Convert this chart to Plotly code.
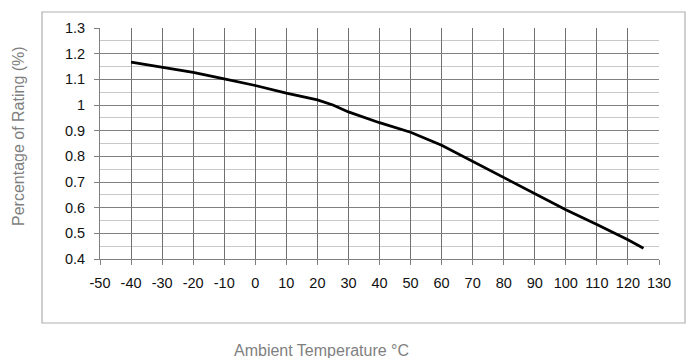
import plotly.graph_objects as go

temperature = [-40, -30, -20, -10, 0, 10, 20, 25, 30, 40, 50, 60, 70, 80, 90, 100, 110, 120, 125]
rating = [1.167, 1.148, 1.127, 1.102, 1.076, 1.046, 1.02, 1.0, 0.973, 0.931, 0.894, 0.843,
          0.78, 0.717, 0.656, 0.592, 0.534, 0.475, 0.442]

x_ticks = list(range(-50, 131, 10))
y_ticks = [0.4, 0.5, 0.6, 0.7, 0.8, 0.9, 1.0, 1.1, 1.2, 1.3]
y_labels = ["0.4", "0.5", "0.6", "0.7", "0.8", "0.9", "1", "1.1", "1.2", "1.3"]

x_title = "Ambient Temperature °C"
y_title = "Percentage of Rating (%)"

W, H = 695, 358
L, R, T, B = 100, 659, 28, 259

fig = go.Figure()
fig.add_trace(go.Scatter(x=temperature, y=rating, mode="lines",
                         line=dict(color="#000000", width=2.8), showlegend=False,
                         hoverinfo="skip"))

font = "Arial, 'Liberation Sans', sans-serif"

fig.update_layout(
    width=W, height=H,
    margin=dict(l=L, r=W - R, t=T, b=H - B, pad=0),
    paper_bgcolor="white", plot_bgcolor="white",
    font=dict(family=font, size=14, color="#111111"),
    xaxis=dict(range=[-50, 130], tickvals=x_ticks, ticktext=[str(v) for v in x_ticks],
               showgrid=True, gridcolor="#707070", gridwidth=1,
               showline=True, linecolor="#808080", linewidth=1, mirror=False,
               ticks="outside", ticklen=5, tickcolor="#808080",
               ticklabelstandoff=6, zeroline=False,
               tickfont=dict(size=14.5, color="#111111")),
    yaxis=dict(range=[0.4, 1.3], tickvals=y_ticks, ticktext=y_labels,
               showgrid=True, gridcolor="#808080", gridwidth=1,
               showline=True, linecolor="#808080", linewidth=1,
               ticks="outside", ticklen=5, tickcolor="#808080",
               ticklabelstandoff=6, zeroline=False,
               minor=dict(dtick=0.05, showgrid=True, gridcolor="#c8c8c8", gridwidth=1, ticks=""),
               tickfont=dict(size=14.5, color="#111111")),
)

pw, ph = R - L, B - T
def px(xp):
    return (xp - L) / pw
def py(yp):
    return (B - yp) / ph

# outer frame
fig.add_shape(type="rect", xref="paper", yref="paper",
              x0=px(42), x1=px(685), y0=py(323), y1=py(12),
              line=dict(color="#b0b0b0", width=1.2), fillcolor="rgba(0,0,0,0)", layer="below")

fig.add_annotation(xref="paper", yref="paper", x=px(321), y=py(350), text=x_title,
                   showarrow=False, font=dict(family=font, size=16, color="#7f7f7f"),
                   xanchor="center", yanchor="middle")
fig.add_annotation(xref="paper", yref="paper", x=px(18), y=py(136), text=y_title,
                   textangle=-90, showarrow=False,
                   font=dict(family=font, size=16, color="#7f7f7f"),
                   xanchor="center", yanchor="middle")

fig.write_html("out.html")
